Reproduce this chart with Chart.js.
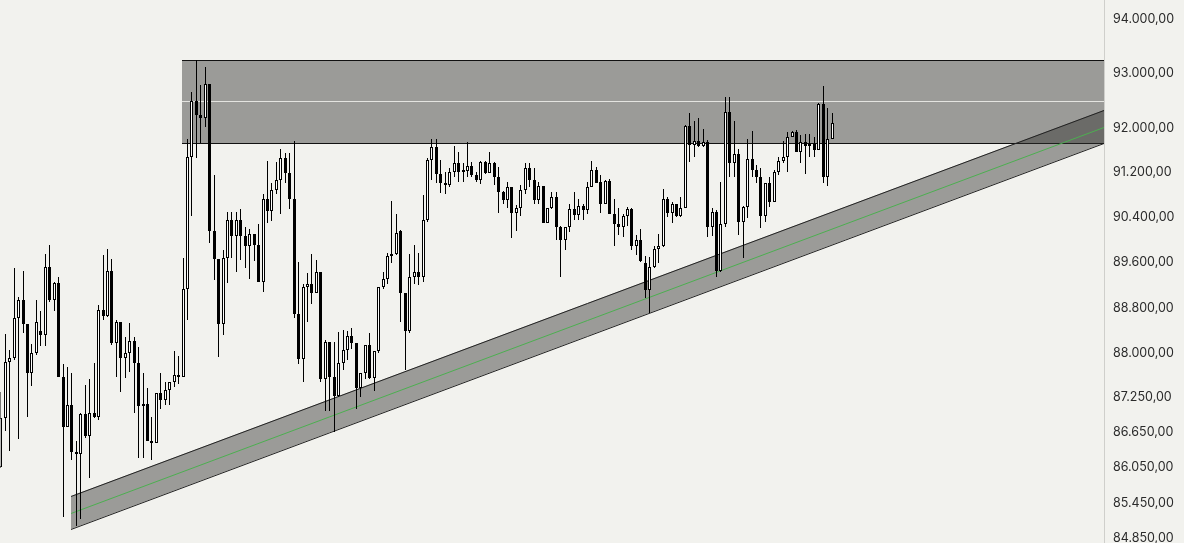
<!DOCTYPE html>
<html>
<head>
<meta charset="utf-8">
<script src="https://cdn.jsdelivr.net/npm/chart.js@4.4.1/dist/chart.umd.min.js"></script>
<style>
  html, body { margin: 0; padding: 0; background: #f2f2ee; }
</style>
</head>
<body>
<canvas id="chart" width="1184" height="543"></canvas>
<script>
// candles (one per bar, left to right)
var opens = [
  86050,86880,87860,87930,88610,88940,88510,87660,88000,88390,
  88330,89510,88940,89240,87590,86740,87110,86300,86280,86950,
  86580,86980,86910,88760,88650,89440,88190,88550,87920,88000,
  88220,87830,87090,87130,86500,86460,87310,87200,87370,87510,
  87620,87590,89120,91470,92500,92230,92190,92800,90160,89650,
  88510,89680,90350,90070,90350,90070,89890,90090,89910,89250,
  90730,90510,90880,91070,91450,91190,90720,88680,87900,89160,
  89210,89060,89420,87550,88200,87600,87270,87830,88060,88310,
  88180,87410,87670,88140,87570,88050,89160,89310,89710,89740,
  90160,89060,88390,89340,89430,89340,90350,91420,91650,91170,
  91010,90970,91210,91360,91240,91230,91310,91150,91070,91390,
  91190,91360,91120,90850,90700,90930,90480,90570,90880,91270,
  91060,90710,90960,90290,90560,90760,90230,89990,90220,90540,
  90440,90600,90520,90940,91250,91030,90640,91050,90460,90270,
  90220,90410,90540,89880,90000,89590,89110,89520,89830,89880,
  90720,90470,90630,90420,90570,92040,91690,91770,91670,91750,
  90230,90490,89450,90280,92290,91360,91530,90320,90580,91440,
  91240,91110,90420,91000,90670,91210,91400,91480,91840,91920,
  91570,91740,91680,91720,91600,92440,91110,91800
];
var highs = [
  87330,88340,88060,89490,88990,89440,88510,88170,88940,88740,
  89750,89900,89250,89340,87820,87770,87660,86490,86970,87460,
  87560,87830,88840,89730,89840,89650,88590,88550,88280,88530,
  88290,88120,87670,87400,86910,87310,87660,87510,87510,88040,
  87960,89670,91800,92650,93250,92780,93110,92800,91150,89650,
  89810,90490,90490,90490,90540,90230,90180,90090,90280,90810,
  91400,91000,91390,91620,91550,91550,91770,89610,89210,89400,
  89740,89640,89420,88230,88200,88200,88380,88410,88390,88440,
  88180,87670,88140,88350,88050,89160,89430,89760,90690,90450,
  90170,89060,89740,89910,89770,90790,91450,91800,91800,91420,
  91210,91270,91680,91560,91360,91740,91380,91210,91400,91400,
  91560,91380,91290,90860,91030,90930,90610,90970,91370,91360,
  91270,91020,90960,90560,90850,90850,90240,90220,90640,90850,
  90730,90640,91030,91410,91290,91150,91060,91080,90730,90560,
  90450,90580,90560,90080,90180,89710,89690,89880,90100,90910,
  90760,90660,90640,90760,92060,92280,92120,92180,91980,91780,
  90570,90520,91030,92570,92570,92130,91630,90600,91800,91950,
  91330,91270,91010,91120,91240,91480,91770,91920,91950,91960,
  91870,91890,91900,91840,92460,92770,92360,92270
];
var lows = [
  86030,86670,86330,87890,86530,88350,86900,87440,87980,88130,
  88130,88900,88740,87590,85200,86740,86170,85050,85170,86550,
  85860,86880,86850,88590,88630,88140,87590,87340,87570,87680,
  86980,86200,86200,86500,86170,86460,87050,87110,87110,87420,
  87480,87590,88590,90410,91450,91730,92020,89940,89280,87940,
  88330,89230,89670,89430,89640,89500,89300,89620,89250,89080,
  90300,90330,90820,90450,91000,90540,88610,87820,87500,88550,
  88870,89060,87510,87010,87010,86650,87250,87710,87890,88070,
  87050,87240,87550,87550,87350,88000,89120,89210,89580,89720,
  88550,87710,88360,89220,89200,89250,90320,91060,91010,90830,
  90820,90930,91120,91030,91030,91120,91120,91030,90990,91170,
  91190,90970,90480,90640,90570,90030,90150,90410,90820,90940,
  90640,90630,90290,90290,90540,89990,89340,89810,90140,90350,
  90350,90350,90450,90940,91000,90480,90630,90450,89880,90080,
  90050,90240,89810,89720,89600,88960,88700,89490,89590,89870,
  90400,90290,90400,90400,90570,91390,91480,91660,91660,90050,
  90060,89340,89430,90230,91120,91110,90080,89670,90380,91120,
  91000,90200,90320,90580,90660,91150,91360,91210,91830,91570,
  91370,91170,91480,91470,91600,91010,90950,91800
];
var closes = [
  86890,87860,87930,88610,88940,88510,87660,88000,88550,88330,
  89510,88930,89240,87590,86740,87110,86300,86280,86950,86580,
  86980,86910,88760,88650,89440,88190,88550,87920,88000,88220,
  87830,87090,87130,86500,86460,87310,87200,87370,87510,87620,
  87590,89120,91470,92500,92230,92190,92800,90160,89650,88510,
  89680,90350,90070,90350,90070,89890,90090,89910,89250,90730,
  90510,90880,91070,91450,91190,90720,88680,87900,89160,89210,
  89060,89420,87550,88200,87600,87270,87830,88060,88310,88180,
  87410,87670,88140,87570,88050,89160,89310,89710,89740,90110,
  89060,88390,89340,89430,89340,90350,91420,91650,91170,91000,
  90970,91210,91360,91210,91210,91310,91150,91060,91390,91190,
  91360,91120,90850,90700,90930,90480,90570,90880,91270,91060,
  90700,90960,90290,90560,90760,90230,89990,90220,90540,90440,
  90600,90520,90940,91250,91010,90640,91050,90460,90270,90220,
  90410,90540,89880,90000,89620,89110,89520,89830,89880,90720,
  90470,90630,90420,90570,92040,91690,91770,91670,91750,90230,
  90490,89450,90280,92290,91360,91530,90320,90580,91440,91240,
  91110,90420,91000,90670,91210,91400,91480,91840,91920,91570,
  91740,91680,91720,91600,92440,91110,91800,92090
];

// price axis labels
var yTicks = [94000, 93000, 92000, 91200, 90400, 89600, 88800, 88000, 87250, 86650, 86050, 85450, 84850];

// visible window (bar index / price)
var xRange = [-0.07, 248.3];
var yRange = [84772, 94353];

// resistance zone: from bar index to right edge, prices top / middle / bottom
var zoneX = [40.88, 248.3];
var zoneTop = 93243, zoneMid = 92492, zoneBottom = 91729;

// rising channel: [left, right] prices of each line
var chanX = [15.9, 248.3];
var chanUpper = [85561, 92328];
var chanMid = [85283, 92028];
var chanLower = [85006, 91729];

function fmt(v) {
  var s = Math.round(v).toString().replace(/\B(?=(\d{3})+(?!\d))/g, '.');
  return s + ',00';
}

function seg(xs, ys) {
  return [{x: xs[0], y: ys[0]}, {x: xs[1], y: ys[1]}];
}

var shade = 'rgba(48,48,46,0.45)';

var bodies = opens.map(function (o, i) { return {x: i, y: [o, closes[i]]}; });
var wicks = lows.map(function (l, i) { return {x: i, y: [l, highs[i]]}; });
var bodyFill = opens.map(function (o, i) { return closes[i] >= o ? '#fdfdfc' : '#000000'; });

var bgPlugin = {
  id: 'bg',
  beforeDraw: function (chart) {
    var ctx = chart.ctx;
    ctx.save();
    ctx.fillStyle = '#f2f2ee';
    ctx.fillRect(0, 0, chart.width, chart.height);
    ctx.restore();
  }
};

// half-pixel shift so 1px wicks / 3px bodies and flat 1px lines land on whole pixels
var crispPlugin = {
  id: 'crisp',
  beforeDatasetDraw: function (chart, args) {
    var ctx = chart.ctx;
    ctx.save();
    if (args.meta.type === 'bar') {
      ctx.translate(0.5, 0);
    } else {
      ctx.translate(0, 0.5);
    }
  },
  afterDatasetDraw: function (chart) {
    chart.ctx.restore();
  }
};

var lineBase = {type: 'line', pointRadius: 0, borderWidth: 1, tension: 0};

new Chart(document.getElementById('chart'), {
  type: 'bar',
  data: {
    datasets: [
      {
        type: 'bar', data: bodies, backgroundColor: bodyFill,
        borderColor: '#000', borderWidth: 1, borderSkipped: false,
        barThickness: 3, grouped: false, inflateAmount: 0, order: 0
      },
      {
        type: 'bar', data: wicks, backgroundColor: '#000',
        borderWidth: 0, barThickness: 1, grouped: false, inflateAmount: 0, order: 1
      },
      Object.assign({}, lineBase, {
        data: seg(zoneX, [zoneTop, zoneTop]), borderColor: '#111111',
        fill: '+1', backgroundColor: shade, order: 5
      }),
      Object.assign({}, lineBase, {
        data: seg(zoneX, [zoneBottom, zoneBottom]), borderColor: '#111111',
        fill: false, order: 5
      }),
      Object.assign({}, lineBase, {
        data: seg(zoneX, [zoneMid, zoneMid]), borderColor: '#e4e4e0',
        fill: false, order: 4
      }),
      Object.assign({}, lineBase, {
        data: seg(chanX, chanUpper), borderColor: '#222222',
        fill: '+1', backgroundColor: shade, order: 3
      }),
      Object.assign({}, lineBase, {
        data: seg(chanX, chanLower), borderColor: '#222222',
        fill: false, order: 3
      }),
      Object.assign({}, lineBase, {
        data: seg(chanX, chanMid), borderColor: '#4caf50',
        fill: false, order: 2
      })
    ]
  },
  options: {
    responsive: false,
    animation: false,
    layout: {padding: 0, autoPadding: false},
    plugins: {
      legend: {display: false},
      tooltip: {enabled: false}
    },
    scales: {
      x: {
        type: 'linear', min: xRange[0], max: xRange[1],
        offset: false, display: false, alignToPixels: true
      },
      y: {
        type: 'logarithmic', position: 'right',
        min: yRange[0], max: yRange[1], bounds: 'data', alignToPixels: true,
        grid: {display: false, drawTicks: false},
        border: {display: true, color: '#cfcfcb', width: 1},
        ticks: {
          autoSkip: false, padding: 9, color: '#2b2b2b',
          font: {family: 'Inter', size: 12.5},
          callback: function (v) { return fmt(v); }
        },
        afterBuildTicks: function (s) {
          s.ticks = yTicks.map(function (v) { return {value: v}; });
        },
        afterFit: function (s) {
          s.width = 80;
          s.paddingTop = 0;
          s.paddingBottom = 0;
        }
      }
    }
  },
  plugins: [bgPlugin, crispPlugin]
});
</script>
</body>
</html>
